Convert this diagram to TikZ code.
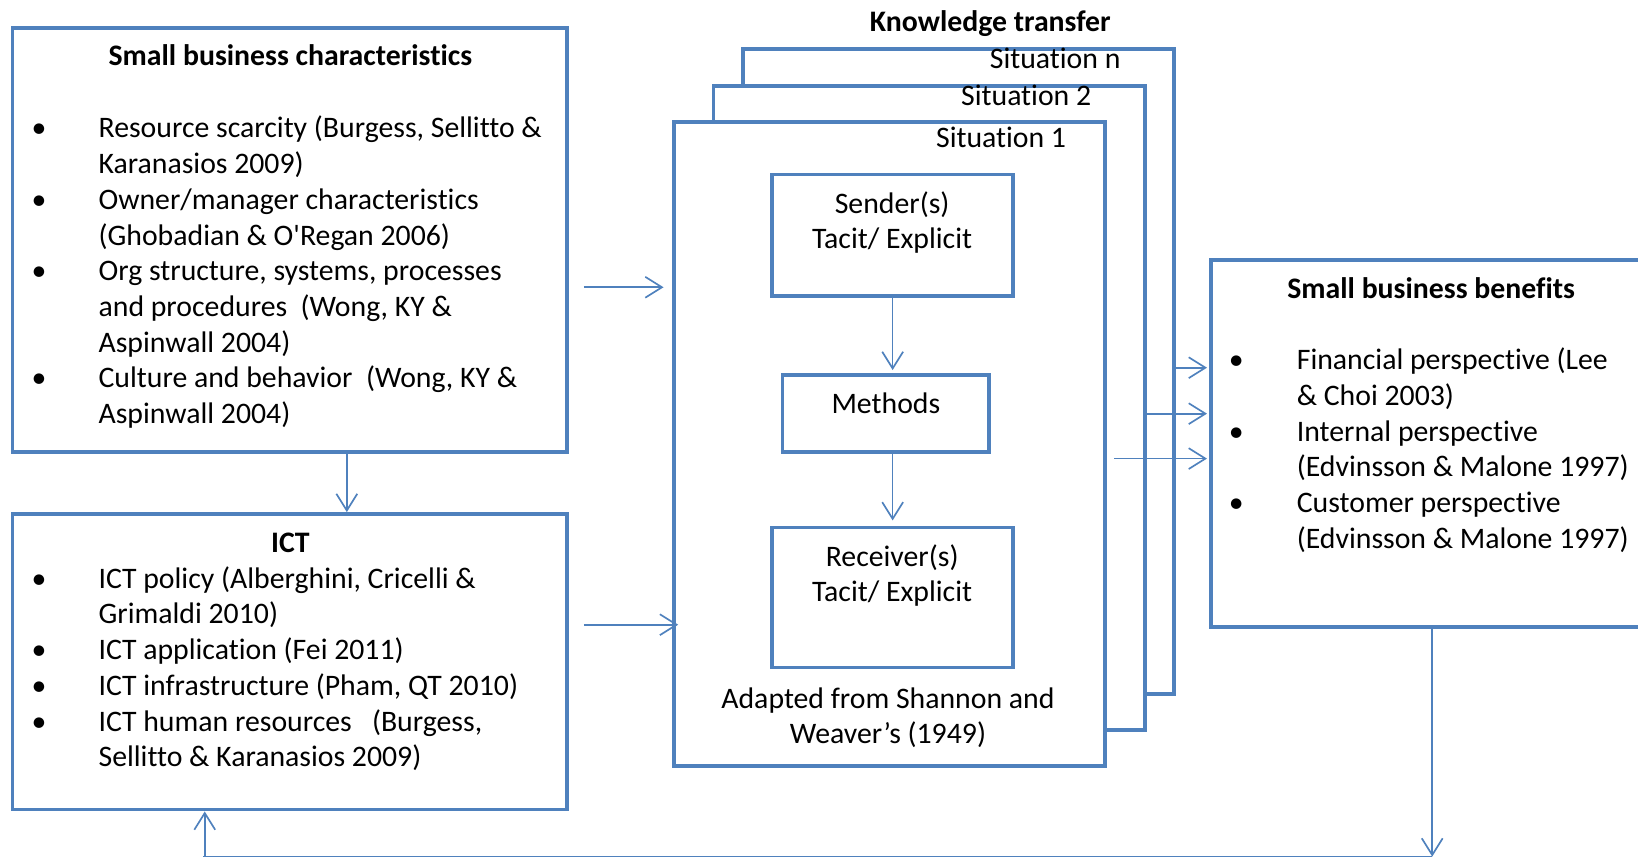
\documentclass[tikz,border=0pt]{standalone}
\usepackage{fontspec}
\setmainfont{Carlito}[Ligatures={TeX,NoCommon}]
\usetikzlibrary{arrows.meta,fit,calc}
\definecolor{obl}{HTML}{4F81BD}
\newcommand{\bl}{\makebox[0pt]{\textbullet}}
\begin{document}
\begin{tikzpicture}[x=0.5pt,y=-0.5pt,
  box/.style={draw=obl, line width=1.8pt, inner sep=0pt, fill=white},
  arr/.style={draw=obl, line width=0.8pt, -{Straight Barb[length=8pt,width=10pt,line width=0.8pt]}},
  ln/.style={draw=obl, line width=0.8pt},
  every node/.style={font=\fontsize{14.25}{17.1}\selectfont, text=black},
  ttl/.style={font=\fontsize{14.25}{17.1}\selectfont\bfseries},
  lst/.style={inner sep=0pt, anchor=base west},
]
\useasboundingbox (0,0) rectangle (1568,822);

% boxes
\node[box, fit={(12,27)(543,433)}] (sbc) {};
\node[box, fit={(12,492)(543,775)}] (ict) {};
\node[box, fit={(711,47)(1124,664)}] (sitn) {};
\node[box, fit={(683,82)(1096,699)}] (sit2) {};
\node[box, fit={(645,117)(1058,733)}] (sit1) {};
\node[box, fit={(739,167)(970,283)}] (snd) {};
\node[box, fit={(749,359)(947,433)}] (mth) {};
\node[box, fit={(739,505)(970,639)}] (rcv) {};
\node[box, fit={(1159,249)(1600,600)}] (ben) {};

% texts
\node[ttl, anchor=base] (t1) at (278,63) {Small business characteristics};
\node[lst] (l1) at (37,132) {\begin{tabular}[t]{@{}p{28.5pt}@{}l@{}}
\bl & Resource scarcity (Burgess, Sellitto \&\\
    & Karanasios 2009)\\
\bl & Owner/manager characteristics\\
    & (Ghobadian \& O\textquotesingle Regan 2006)\\
\bl & Org structure, systems, processes\\
    & and procedures \ (Wong, KY \&\\
    & Aspinwall 2004)\\
\bl & Culture and behavior \ (Wong, KY \&\\
    & Aspinwall 2004)
\end{tabular}};

\node[ttl, anchor=base] (t2) at (278,529) {ICT};
\node[lst] (l2) at (37,563) {\begin{tabular}[t]{@{}p{28.5pt}@{}l@{}}
\bl & ICT policy (Alberghini, Cricelli \&\\
    & Grimaldi 2010)\\
\bl & ICT application (Fei 2011)\\
\bl & ICT infrastructure (Pham, QT 2010)\\
\bl & ICT human resources \ \ (Burgess,\\
    & Sellitto \& Karanasios 2009)
\end{tabular}};

\node[ttl, anchor=base] (t3) at (948,30) {Knowledge transfer};
\node[anchor=base east, inner sep=0pt] (sn) at (1073,66) {Situation n};
\node[anchor=base east, inner sep=0pt] (s2) at (1045,101) {Situation 2};
\node[anchor=base east, inner sep=0pt] (s1) at (1021,141) {Situation 1};

\node[anchor=base, inner sep=0pt] (sndt) at (854,204) {\begin{tabular}[t]{@{}c@{}}Sender(s)\\Tacit/ Explicit\end{tabular}};
\node[anchor=base, inner sep=0pt] (mtht) at (848,396) {Methods};
\node[anchor=base, inner sep=0pt] (rcvt) at (854,542) {\begin{tabular}[t]{@{}c@{}}Receiver(s)\\Tacit/ Explicit\end{tabular}};
\node[anchor=base, inner sep=0pt] (adp) at (850,678) {\begin{tabular}[t]{@{}c@{}}Adapted from Shannon and\\Weaver’s (1949)\end{tabular}};

\node[ttl, anchor=base] (t4) at (1370,286) {Small business benefits};
\node[lst] (l3) at (1183,354) {\begin{tabular}[t]{@{}p{29pt}@{}l@{}}
\bl & Financial perspective (Lee\\
    & \& Choi 2003)\\
\bl & Internal perspective\\
    & (Edvinsson \& Malone 1997)\\
\bl & Customer perspective\\
    & (Edvinsson \& Malone 1997)
\end{tabular}};

% helper coordinates
\coordinate (y275) at (0,275);
\coordinate (y598) at (0,598);
\coordinate (y352) at (0,352);
\coordinate (y396) at (0,396);
\coordinate (y439) at (0,439);
\coordinate (fb1) at (1371,820);
\coordinate (fb2) at (196,820);

% connectors
\draw[arr] (sbc.south -| 332,0) -- (ict.north -| 332,0);
\draw[arr, shorten >=4pt] ($(sbc.east |- y275)+(14,0)$) -- (sit1.west |- y275);
\draw[arr] ($(ict.east |- y598)+(14,0)$) -- ($(sit1.west |- y598)+(6,0)$);
\draw[arr, shorten >=1.5pt] (snd.south) -- (snd.south |- mth.north);
\draw[arr, shorten >=2.5pt] (snd.south |- mth.south) -- (rcv.north);
\draw[arr, shorten >=0.9pt] (sitn.east |- y352) -- (ben.west |- y352);
\draw[arr, shorten >=0.9pt] (sit2.east |- y396) -- (ben.west |- y396);
\draw[arr, shorten >=0.9pt] ($(sit1.east |- y439)+(7,0)$) -- (ben.west |- y439);
\draw[arr] (ben.south -| fb1) -- (fb1);
\draw[ln] (fb1) -- ($(fb2)+(-2,0)$);
\draw[arr] (fb2) -- (ict.south -| fb2);
\end{tikzpicture}
\end{document}
